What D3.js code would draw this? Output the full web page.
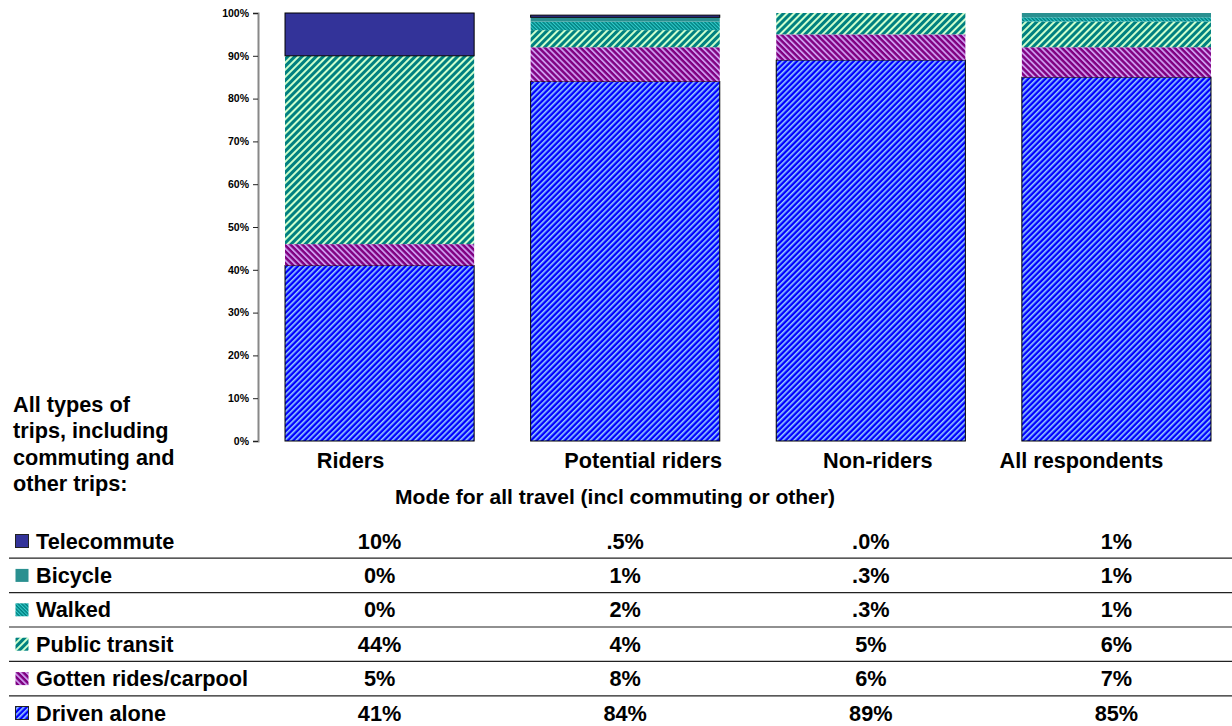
<!DOCTYPE html>
<html>
<head>
<meta charset="utf-8">
<script src="https://cdn.jsdelivr.net/npm/d3@7"></script>
<style>
  html, body { margin: 0; padding: 0; background: #fff; }
  svg { display: block; font-family: "Liberation Sans", Arial, sans-serif; font-weight: bold; }
</style>
</head>
<body>
<svg id="chart" width="1232" height="726"></svg>
<script>
// Respondent groups and their travel mode shares (percent)
const categories = ["Riders", "Potential riders", "Non-riders", "All respondents"];
const drivenAlone = [41, 84, 89, 85];
const carpool     = [5, 8, 6, 7];
const transit     = [44, 4, 5, 6];
const walked      = [0, 2, 0.3, 1];
const bicycle     = [0, 1, 0.3, 1];
const telecommute = [10, 0.5, 0, 1];

// Labels printed in the data table
const telecommuteLabels = ["10%", ".5%", ".0%", "1%"];
const bicycleLabels     = ["0%", "1%", ".3%", "1%"];
const walkedLabels      = ["0%", "2%", ".3%", "1%"];
const transitLabels     = ["44%", "4%", "5%", "6%"];
const carpoolLabels     = ["5%", "8%", "6%", "7%"];
const drivenLabels      = ["41%", "84%", "89%", "85%"];

const yTicks = [0, 10, 20, 30, 40, 50, 60, 70, 80, 90, 100];

const seriesNames = ["Driven alone", "Gotten rides/carpool", "Public transit", "Walked", "Bicycle", "Telecommute"];
const seriesValues = [drivenAlone, carpool, transit, walked, bicycle, telecommute];
const seriesLabels = [drivenLabels, carpoolLabels, transitLabels, walkedLabels, bicycleLabels, telecommuteLabels];

const svg = d3.select("#chart");
const defs = svg.append("defs");

// Hatched fills
function stripes(id, bg, fg, period, width, angle) {
  const p = defs.append("pattern")
    .attr("id", id)
    .attr("patternUnits", "userSpaceOnUse")
    .attr("width", period).attr("height", period)
    .attr("patternTransform", `rotate(${angle})`);
  p.append("rect").attr("width", period).attr("height", period).attr("fill", bg);
  p.append("rect").attr("width", width).attr("height", period).attr("fill", fg);
}
stripes("pDriven",  "#0000FF", "#99CCFF", 4.0, 1.6, 45);
stripes("pCarpool", "#800080", "#CC99EE", 4.2, 1.8, -45);
stripes("pTransit", "#008080", "#CCFFCC", 5.0, 2.0, 45);
stripes("pWalked",  "#008080", "#33CCCC", 2.6, 1.1, -45);

const fills = ["url(#pDriven)", "url(#pCarpool)", "url(#pTransit)", "url(#pWalked)", "#2A9090", "#333399"];
const outlined = [true, false, false, false, false, true];

// Scales (the percentage axis stops at 100%)
const x = d3.scaleBand().domain(categories).range([258, 1238]).paddingInner(0.23).paddingOuter(0.11);
const y = d3.scaleLinear().domain([0, 100]).range([441, 13]).clamp(true);

// Stacked data
const rows = categories.map((c, i) => {
  const r = { cat: c };
  seriesNames.forEach((s, k) => { r[s] = seriesValues[k][i]; });
  return r;
});
const stacked = d3.stack().keys(seriesNames)(rows);

const layers = svg.append("g").selectAll("g")
  .data(stacked).join("g")
  .attr("fill", (d, k) => fills[k]);

layers.selectAll("rect")
  .data((d, k) => d.map(v => ({ v, k })))
  .join("rect")
  .attr("x", d => x(d.v.data.cat))
  .attr("width", x.bandwidth())
  .attr("y", d => y(d.v[1]))
  .attr("height", d => Math.max(0, y(d.v[0]) - y(d.v[1])))
  .attr("stroke", d => outlined[d.k] ? "#000" : "none")
  .attr("stroke-width", 1);

// Y axis
const yAxis = d3.axisLeft(y).tickValues(yTicks).tickFormat(d => d + "%").tickSize(5).tickPadding(4);
const ga = svg.append("g").attr("transform", "translate(258,0)").call(yAxis);
ga.select(".domain").attr("stroke", "#888").attr("stroke-width", 2);
ga.selectAll(".tick line").attr("stroke", "#222");
ga.selectAll(".tick text").attr("font-size", 10.5).attr("font-weight", "bold")
  .attr("font-family", "Liberation Sans, Arial, sans-serif").attr("fill", "#000");

const bigFont = 21.7;

// Category labels under the bars
const labelShift = { "Riders": -29, "Potential riders": 18, "Non-riders": 7, "All respondents": -35 };
svg.append("g").selectAll("text")
  .data(categories).join("text")
  .attr("x", d => x(d) + x.bandwidth() / 2 + labelShift[d])
  .attr("y", 468)
  .attr("text-anchor", "middle")
  .attr("font-size", bigFont)
  .text(d => d);

// Axis title
svg.append("text")
  .attr("x", 615).attr("y", 504)
  .attr("text-anchor", "middle")
  .attr("font-size", 21)
  .text("Mode for all travel (incl commuting or other)");

// Left note
const note = ["All types of", "trips, including", "commuting and", "other trips:"];
svg.append("g").selectAll("text")
  .data(note).join("text")
  .attr("x", 13)
  .attr("y", (d, i) => 412 + i * 26.3)
  .attr("font-size", bigFont)
  .text(d => d);

// Data table with legend keys
const rowH = 34.4;
const firstRowMid = 541;
const tableOrder = d3.range(seriesNames.length).reverse();
const table = svg.append("g");

tableOrder.forEach((k, r) => {
  const mid = firstRowMid + r * rowH;
  const g = table.append("g");
  g.append("rect")
    .attr("x", 15.5).attr("y", mid - 6.5)
    .attr("width", 13).attr("height", 13)
    .attr("fill", fills[k])
    .attr("stroke", outlined[k] ? "#222" : "none")
    .attr("stroke-width", 1);
  g.append("text")
    .attr("x", 36).attr("y", mid + 7.5)
    .attr("font-size", bigFont)
    .text(seriesNames[k]);
  g.selectAll("text.val")
    .data(seriesLabels[k]).join("text")
    .attr("class", "val")
    .attr("x", (d, i) => x(categories[i]) + x.bandwidth() / 2)
    .attr("y", mid + 7.5)
    .attr("text-anchor", "middle")
    .attr("font-size", bigFont)
    .text(d => d);
  if (r < tableOrder.length - 1) {
    g.append("line")
      .attr("x1", 9).attr("x2", 1232)
      .attr("y1", mid + rowH / 2).attr("y2", mid + rowH / 2)
      .attr("stroke", "#222").attr("stroke-width", 1.2);
  }
});
</script>
</body>
</html>
